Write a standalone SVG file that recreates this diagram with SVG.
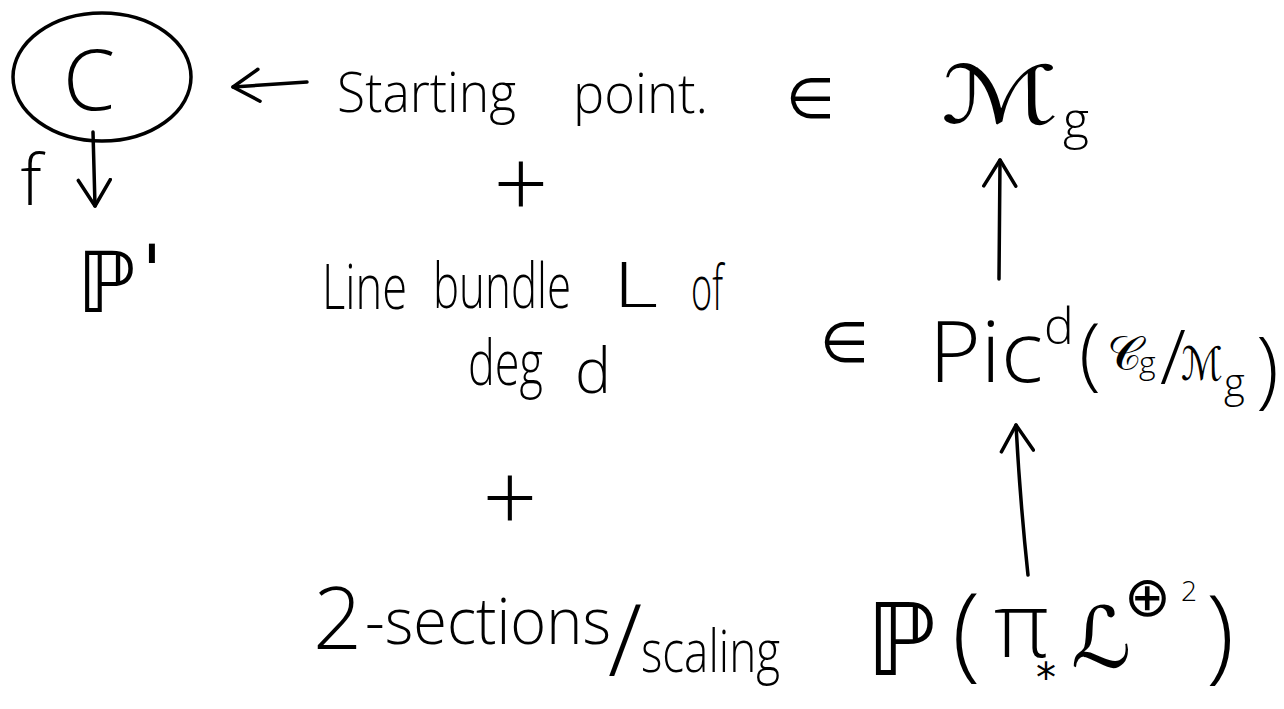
<svg xmlns="http://www.w3.org/2000/svg" width="1284" height="709" viewBox="0 0 1284 709">
<style>
.t{font-family:"Open Sans","DejaVu Sans",sans-serif;font-weight:300;fill:#000}
.m{font-family:"DejaVu Sans","Noto Sans",sans-serif;font-weight:normal;fill:#000}
.s{fill:none;stroke:#000;stroke-width:3.5;stroke-linecap:round;stroke-linejoin:round}
</style>
<defs>
<marker id="head" viewBox="0 0 30 36" refX="28" refY="18" markerWidth="30" markerHeight="36" markerUnits="userSpaceOnUse" orient="auto">
<path d="M2,2 L28,18 L2,34" fill="none" stroke="#000" stroke-width="3.5" stroke-linecap="round" stroke-linejoin="round"/>
</marker>
</defs>
<rect width="1284" height="709" fill="#fff"/>

<g id="node-C">
<ellipse class="s" cx="102" cy="77" rx="89" ry="64"/>
<text class="t" x="89" y="110" font-size="84" text-anchor="middle">C</text>
</g>

<g id="node-P1">
<text class="m" x="77" y="312" font-size="84">ℙ</text>
<text class="m" x="142" y="296" font-size="72">'</text>
</g>

<g id="node-starting">
<text class="t" x="337" y="112" font-size="56" textLength="179" lengthAdjust="spacingAndGlyphs">Starting</text>
<text class="t" x="573" y="113" font-size="56" textLength="135" lengthAdjust="spacingAndGlyphs">point.</text>
<text class="m" x="786" y="118" font-size="56">∈</text>
</g>

<g id="node-Mg">
<text class="m" x="941" y="123" font-size="80" textLength="118" lengthAdjust="spacingAndGlyphs">ℳ</text>
<text class="t" x="1063" y="138" font-size="50">g</text>
</g>

<g id="node-plus1">
<text class="t" x="521" y="218" font-size="96" text-anchor="middle">+</text>
</g>

<g id="node-linebundle">
<text class="t" x="322" y="309" font-size="62" textLength="85" lengthAdjust="spacingAndGlyphs">Line</text>
<text class="t" x="433" y="308" font-size="62" textLength="138" lengthAdjust="spacingAndGlyphs">bundle</text>
<text class="t" x="613" y="307" font-size="62" textLength="45" lengthAdjust="spacingAndGlyphs">L</text>
<text class="t" x="691" y="310" font-size="62" textLength="32" lengthAdjust="spacingAndGlyphs">of</text>
<text class="t" x="468" y="385" font-size="62" textLength="75" lengthAdjust="spacingAndGlyphs">deg</text>
<text class="t" x="575" y="393" font-size="62" textLength="36" lengthAdjust="spacingAndGlyphs">d</text>
</g>

<g id="node-pic">
<text class="m" x="820" y="362" font-size="56">∈</text>
<text class="t" x="929" y="382" font-size="84" textLength="114" lengthAdjust="spacingAndGlyphs">Pic</text>
<text class="t" x="1044" y="344" font-size="50">d</text>
<text class="t" x="1079" y="380" font-size="80">(</text>
<text class="m" x="1107" y="370" font-size="48">𝒞</text>
<text class="t" x="1139" y="374" font-size="32">g</text>
<text class="t" x="1160" y="384" font-size="76">/</text>
<text class="m" x="1181" y="380" font-size="46" textLength="42" lengthAdjust="spacingAndGlyphs">ℳ</text>
<text class="t" x="1224" y="397" font-size="40">g</text>
<text class="t" x="1256" y="398" font-size="84">)</text>
</g>

<g id="node-plus2">
<text class="t" x="510" y="532" font-size="96" text-anchor="middle">+</text>
</g>

<g id="node-sections">
<text class="t" x="313" y="649" font-size="86">2</text>
<text class="t" x="365" y="644" font-size="64" textLength="246" lengthAdjust="spacingAndGlyphs">-sections</text>
<text class="t" x="608" y="676" font-size="100">/</text>
<text class="t" x="641" y="672" font-size="58" textLength="139" lengthAdjust="spacingAndGlyphs">scaling</text>
</g>

<g id="node-PPi">
<text class="m" x="866" y="675" font-size="100">ℙ</text>
<text class="t" x="952" y="668" font-size="104">(</text>
<text class="t" x="994" y="657" font-size="90">π</text>
<text class="m" x="1036" y="692" font-size="40">*</text>
<text class="m" x="1071" y="667" font-size="84">ℒ</text>
<text class="m" x="1124" y="616" font-size="56">⊕</text>
<text class="t" x="1181" y="601" font-size="28">2</text>
<text class="t" x="1206" y="670" font-size="104">)</text>
</g>

<g id="connectors">
<path class="s" d="M307,82 L233,87" marker-end="url(#head)"/>
<text class="t" x="31" y="205" font-size="70" text-anchor="middle">f</text>
<path class="s" d="M93,132 L95,206" marker-end="url(#head)"/>
<path class="s" d="M999,279 L1000,160" marker-end="url(#head)"/>
<path class="s" d="M1028,575 Q1020,500 1016,425" marker-end="url(#head)"/>
</g>
</svg>
